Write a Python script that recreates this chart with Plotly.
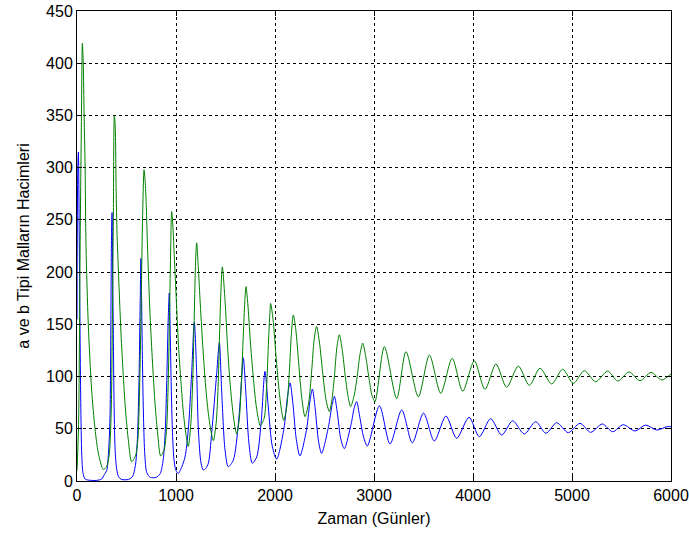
import plotly.graph_objects as go

# ---- data ----
# b (blue) : time in days, volume
blue_t = [0, 8, 14, 22, 30, 38, 48, 60, 80, 120, 200, 250, 275, 300, 320, 333, 342, 348, 354,
          360, 367, 375, 385, 400, 420, 450, 520, 560, 590, 610, 625, 638, 646,
          653, 662, 672, 685, 705, 740, 800, 840, 870, 890, 905, 920, 932,
          942, 952, 963, 980, 1000, 1023, 1060, 1091, 1124, 1158, 1185,
          1209, 1226, 1253, 1276, 1300, 1327, 1360, 1411, 1438,
          1461, 1495, 1528, 1579, 1630, 1663, 1680, 1704, 1737, 1771,
          1815, 1859, 1899, 1932, 1973, 2017, 2090, 2125, 2152, 2180, 2215, 2252,
          2320, 2355, 2378, 2405, 2440, 2471, 2540, 2575, 2600, 2630, 2665, 2700,
          2770, 2800, 2825, 2855, 2895, 2933, 3055, 3162, 3280, 3387, 3500, 3609,
          3727, 3835, 3960, 4064, 4178, 4290, 4401, 4518, 4633, 4737, 4845, 4962,
          5081, 5189, 5306, 5411, 5518, 5636, 5744, 5855, 5960, 6000]
blue_v = [155, 300, 315, 240, 150, 75, 25, 8, 2, 0.8, 0.6, 2, 6, 10, 30, 60, 150, 230, 257,
          200, 140, 70, 30, 12, 4, 1.5, 1.5, 4, 15, 40, 90, 170, 213,
          170, 110, 60, 25, 8, 3.5, 3.5, 7, 20, 45, 90, 150, 180,
          140, 90, 50, 20, 10, 7.3, 14, 23, 49, 103, 152,
          103, 49, 17, 10.5, 12, 17, 45.6, 103, 132.5,
          87, 30, 13.7, 20, 55, 97, 118, 87, 36, 17,
          23, 55, 105, 71, 33, 21, 50, 80, 94, 75, 40, 24,
          50, 78, 88, 70, 38, 26.5, 52, 72, 81, 65, 40, 31,
          55, 70, 76, 62, 42, 33.5, 72, 35.4, 68, 36.5, 65, 38.3,
          62.2, 40.9, 61, 42.4, 59.7, 44, 57.7, 45, 56.8, 45.7, 55.8, 46.3,
          55.2, 46.6, 54.6, 47.2, 53.9, 47.9, 53.6, 48.8, 52, 52]

# a (green) : time in days, volume
green_t = [0, 15, 25, 32, 45, 54, 63, 72, 82, 91, 114, 148, 182, 215, 266,
           300, 325, 345, 357, 367, 377, 386, 395, 405, 425, 445, 465, 490, 520, 552,
           590, 615, 630, 645, 658, 668, 677, 690, 700, 712, 735, 760, 790, 815, 845,
           880, 905, 920, 935, 947, 956, 968, 980, 1000, 1025, 1050, 1075, 1100, 1124,
           1150, 1170, 1185, 1198, 1209, 1225, 1242, 1270, 1300, 1330, 1355, 1377,
           1405, 1425, 1440, 1455, 1468, 1495, 1520, 1545, 1570, 1595, 1613,
           1640, 1660, 1680, 1695, 1707, 1725, 1750, 1780, 1810, 1835, 1850,
           1890, 1915, 1935, 1948, 1956, 1980, 2010, 2040, 2065, 2088,
           2120, 2145, 2165, 2185, 2210, 2240, 2270, 2303,
           2340, 2370, 2395, 2420, 2450, 2480, 2515, 2549,
           2575, 2600, 2625, 2650, 2680, 2710, 2740, 2764,
           2800, 2830, 2860, 2886, 2915, 2950, 2980, 3010,
           3105, 3229, 3323, 3448, 3560, 3674, 3790, 3896, 4013, 4121, 4232, 4340,
           4458, 4569, 4677, 4795, 4906, 5013, 5124, 5239, 5360, 5462, 5576, 5687,
           5798, 5906, 6000]
green_v = [10, 50, 140, 230, 350, 419, 400, 350, 300, 225, 150, 87, 50, 27, 11,
           14, 25, 65, 150, 250, 350, 340, 280, 235, 185, 140, 105, 68, 38, 18.5,
           24, 40, 80, 150, 230, 275, 298, 285, 262, 225, 165, 118, 72, 45, 24,
           30, 50, 90, 160, 225, 258, 245, 221, 180, 130, 95, 65, 45, 33,
           55, 100, 160, 210, 228, 205, 175, 130, 90, 62, 47, 38.6,
           55, 90, 140, 185, 205, 173, 130, 95, 70, 52, 45,
           60, 95, 140, 172, 186, 170, 135, 100, 72, 58, 53,
           60, 90, 135, 160, 170, 155, 120, 88, 68, 58,
           72, 105, 140, 159, 145, 112, 80, 61.6,
           75, 105, 135, 148, 132, 105, 78, 66.4,
           78, 100, 128, 140, 125, 100, 80, 71.2,
           82, 100, 122, 132, 120, 98, 82, 76,
           128.6, 79, 123.8, 80.7, 120.6, 84, 117.5, 86, 115, 87.8, 112, 89.7,
           110, 91.6, 108, 92.9, 107, 93.5, 105.6, 95, 105.3, 95.7, 104.4, 96,
           104, 96.7, 102.5]

x_ticks = [0, 1000, 2000, 3000, 4000, 5000, 6000]
y_ticks = [0, 50, 100, 150, 200, 250, 300, 350, 400, 450]
x_title = "Zaman (Günler)"
y_title = "a ve b Tipi Malların Hacimleri"

FONT = "Liberation Sans, Arial, sans-serif"

fig = go.Figure()
fig.add_trace(go.Scatter(x=blue_t, y=blue_v, mode="lines", name="b",
                         line=dict(color="#0000FF", width=1, shape="spline", smoothing=0.8)))
fig.add_trace(go.Scatter(x=green_t, y=green_v, mode="lines", name="a",
                         line=dict(color="#008000", width=1, shape="spline", smoothing=0.8)))

axis_common = dict(
    showgrid=True, gridcolor="black", griddash="3px,3px", gridwidth=1,
    showline=True, linecolor="black", linewidth=1, mirror="ticks",
    ticks="inside", ticklen=5, tickcolor="black", zeroline=False,
    tickfont=dict(family=FONT, size=16, color="black"),
)
fig.update_xaxes(range=[0, 6000], tickvals=x_ticks, ticktext=[str(v) for v in x_ticks],
                 title=dict(text=x_title, font=dict(family=FONT, size=16, color="black"), standoff=9),
                 **axis_common)
fig.update_yaxes(range=[0, 450], tickvals=y_ticks, ticktext=[str(v) for v in y_ticks],
                 title=dict(text=y_title, font=dict(family=FONT, size=16, color="black"), standoff=12),
                 **axis_common)
fig.update_layout(
    width=689, height=538,
    margin=dict(l=77, r=18, t=11, b=57, autoexpand=False),
    paper_bgcolor="white", plot_bgcolor="white",
    showlegend=False,
)
# remove the default page margin so the figure sits at the window's top-left corner
fig.write_html("out.html",
               config={"displayModeBar": False},
               post_script="document.body.style.margin='0';document.body.style.overflow='hidden';")
